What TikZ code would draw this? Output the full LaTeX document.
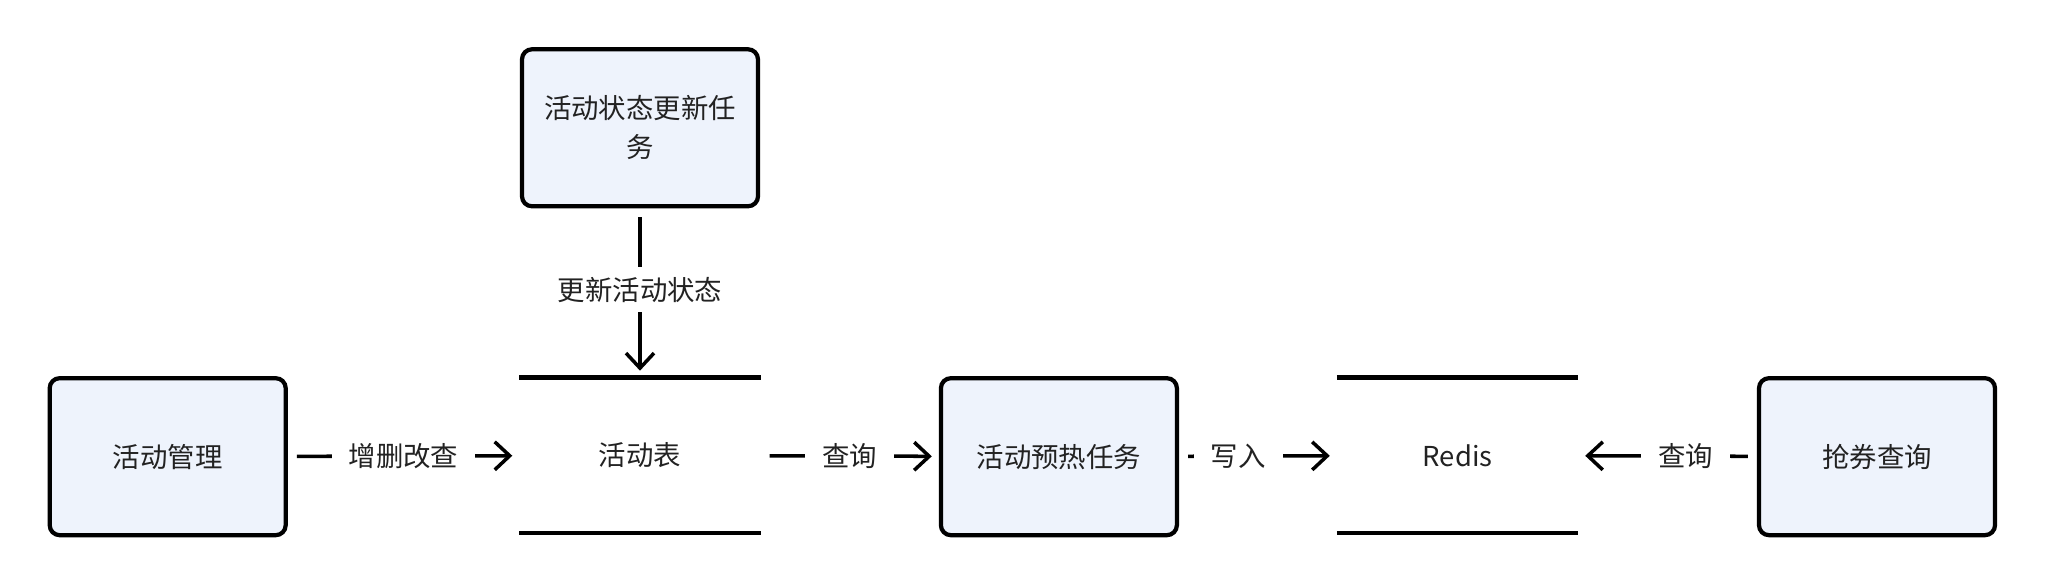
\documentclass[tikz,border=0pt]{standalone}
\usepackage{fontspec}
\setmainfont{Noto Sans CJK SC}
\usepackage{xcolor}
\usepackage{tikz}
\usetikzlibrary{arrows.meta}
\definecolor{taskfill}{HTML}{EEF3FC}
\definecolor{inkgray}{HTML}{222222}

\begin{document}
\begin{tikzpicture}[font=\fontsize{7.8pt}{11.1pt}\selectfont, text=inkgray,
  proc/.style={draw=black, line width=1.2pt, fill=taskfill, rounded corners=0.1cm, minimum width=2.36cm, minimum height=1.57cm, text width=2cm, align=center},
  store/.style={minimum width=2.4cm, minimum height=1.54cm},
  flow/.style={line width=1pt, -{Straight Barb[length=1.5mm,width=2.8mm]}, shorten <=0.09cm, shorten >=0.07cm},
  lbl/.style={fill=white, inner xsep=0.17cm, inner ysep=0.1cm}]
  \useasboundingbox (0,0) rectangle (20.46,-5.84);
  \node[proc] (mgmt) at (1.677,-4.567) {活动管理};
  \node[proc] (statustask) at (6.40,-1.278) {活动状态更新任\\务};
  \node[store] (acttable) at (6.40,-4.554) {活动表};
  \node[proc] (warmup) at (10.589,-4.567) {活动预热任务};
  \node[store] (redis) at (14.575,-4.554) {Redis};
  \node[proc] (grab) at (18.77,-4.567) {抢券查询};
  \draw[line width=1.3pt] (acttable.north west) -- (acttable.north east) (acttable.south west) -- (acttable.south east);
  \draw[line width=1.3pt] (redis.north west) -- (redis.north east) (redis.south west) -- (redis.south east);
  \draw[flow] (mgmt) -- node[lbl] {增删改查} (acttable);
  \draw[flow] (statustask) -- node[lbl, pos=0.48] {更新活动状态} (acttable);
  \draw[flow] (acttable) -- node[lbl] {查询} (warmup);
  \draw[flow] (warmup) -- node[lbl, pos=0.375] {写入} (redis);
  \draw[flow] (grab) -- node[lbl, pos=0.4] {查询} (redis);
\end{tikzpicture}
\end{document}
